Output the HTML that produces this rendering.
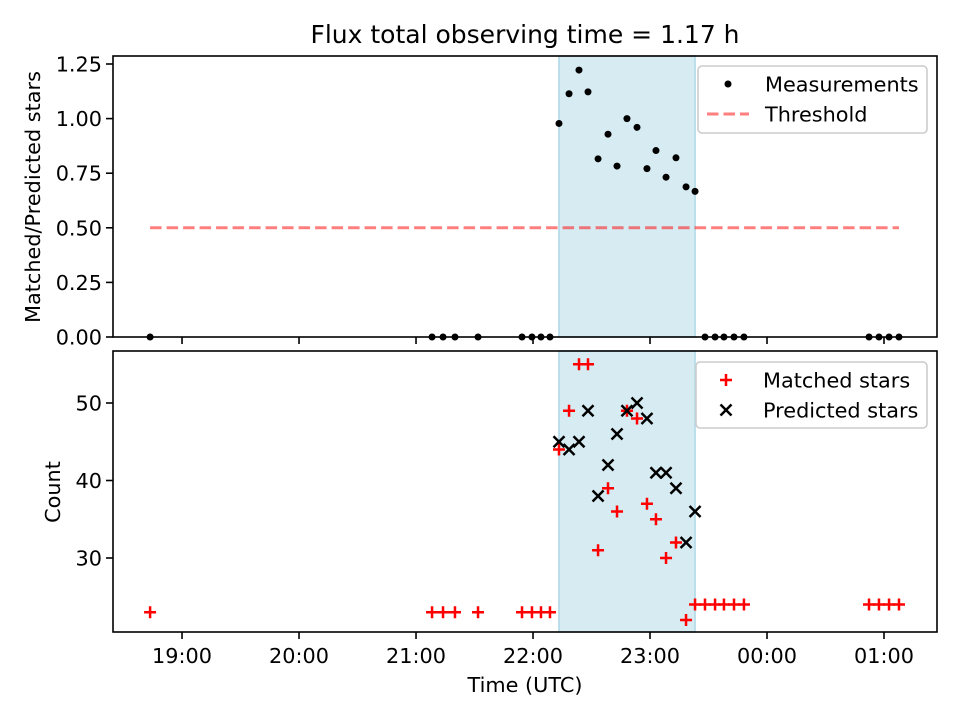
<!DOCTYPE html>
<html><head><meta charset="utf-8"><style>
body{margin:0;background:#fff}
svg{font-family:"DejaVu Sans","Liberation Sans",sans-serif}
</style></head><body>
<svg id="chart" width="960" height="720"></svg>
<script>
const times=[18.727,21.137,21.231,21.333,21.530,21.906,21.991,22.068,22.145,22.222,22.308,22.393,22.470,22.556,22.641,22.718,22.803,22.889,22.974,23.051,23.137,23.222,23.308,23.385,23.470,23.556,23.632,23.718,23.803,24.872,24.957,25.043,25.128];
const matched=[23,23,23,23,23,23,23,23,23,44,49,55,55,31,39,36,49,48,37,35,30,32,22,24,24,24,24,24,24,24,24,24,24];
const predicted=[null,null,null,null,null,null,null,null,null,45,44,45,49,38,42,46,49,50,48,41,41,39,32,36,null,null,null,null,null,null,null,null,null];
const xTicks=[19,20,21,22,23,24,25];
const xTickLabels=["19:00","20:00","21:00","22:00","23:00","00:00","01:00"];
const yTopTicks=[0,0.25,0.5,0.75,1.0,1.25];
const yBotTicks=[30,40,50];
const threshold=0.5;
const span=[22.222,23.385];
const NS="http://www.w3.org/2000/svg";
const svg=document.getElementById('chart');
function el(t,a,p){const e=document.createElementNS(NS,t);for(const k in a)e.setAttribute(k,a[k]);(p||svg).appendChild(e);return e;}
const FS=20.8;
const L=113,R=937;
const x=h=>L+(h-18.410)/(25.453-18.410)*(R-L);
const T0=56,T1=337,B0=351,B1=632;
const yT=v=>337-v*218.4;
const yB=v=>558-(v-30)*7.75;
const ratio=times.map((t,i)=>predicted[i]?matched[i]/predicted[i]:0);
const t=el('text',{x:525,y:43,'font-size':25,'text-anchor':'middle'});t.textContent="Flux total observing time = 1.17 h";

function plus(cx,cy,g){return el('path',{d:`M${cx-6},${cy}H${cx+6}M${cx},${cy-6}V${cy+6}`,stroke:'#f00','stroke-width':2.5},g);}
function cross(cx,cy,g){return el('path',{d:`M${cx-5.5},${cy-5.5}L${cx+5.5},${cy+5.5}M${cx-5.5},${cy+5.5}L${cx+5.5},${cy-5.5}`,stroke:'#000','stroke-width':2.5},g);}
function panel(top,bot,name){
  const g=el('g',{});
  const s=el('rect',{x:x(span[0]),y:top,width:x(span[1])-x(span[0]),height:bot-top,fill:'#add8e6','fill-opacity':0.5,stroke:'#add8e6','stroke-width':1.5},g);
  
  xTicks.forEach((h,i)=>{el('line',{x1:x(h),x2:x(h),y1:bot,y2:bot+7,stroke:'#000','stroke-width':1.6},g);});
  return g;
}
const gt=panel(T0,T1,'top-panel');
const th=el('line',{x1:x(18.727),x2:x(25.128),y1:yT(threshold),y2:yT(threshold),stroke:'#ff0000','stroke-opacity':0.5,'stroke-width':3,'stroke-dasharray':'11.5,5'},gt);

times.forEach((h,i)=>{const c=el('circle',{cx:x(h),cy:yT(ratio[i]),r:3.5,fill:'#000'},gt);});
yTopTicks.forEach(v=>{el('line',{x1:L-7,x2:L,y1:yT(v),y2:yT(v),stroke:'#000','stroke-width':1.6},gt);const tx=el('text',{x:L-11,y:yT(v)+7.5,'font-size':FS,'text-anchor':'end'},gt);tx.textContent=v.toFixed(2);});
el('rect',{x:L,y:T0,width:R-L,height:T1-T0,fill:'none',stroke:'#000','stroke-width':1.6},gt);
const yl=el('text',{transform:'translate(40,197) rotate(-90)','font-size':FS,'text-anchor':'middle'},gt);yl.textContent="Matched/Predicted stars";
const gb=panel(B0,B1,'bottom-panel');
times.forEach((h,i)=>{const p=plus(x(h),yB(matched[i]),gb);});
times.forEach((h,i)=>{if(predicted[i]==null)return;const p=cross(x(h),yB(predicted[i]),gb);});
yBotTicks.forEach(v=>{el('line',{x1:L-7,x2:L,y1:yB(v),y2:yB(v),stroke:'#000','stroke-width':1.6},gb);const tx=el('text',{x:L-11,y:yB(v)+7.5,'font-size':FS,'text-anchor':'end'},gb);tx.textContent=v;});
xTicks.forEach((h,i)=>{const tx=el('text',{x:x(h),y:B1+31,'font-size':FS,'text-anchor':'middle'},gb);tx.textContent=xTickLabels[i];});
el('rect',{x:L,y:B0,width:R-L,height:B1-B0,fill:'none',stroke:'#000','stroke-width':1.6},gb);
const yl2=el('text',{transform:'translate(60,492) rotate(-90)','font-size':FS,'text-anchor':'middle'},gb);yl2.textContent="Count";
const xl=el('text',{x:525,y:692,'font-size':FS,'text-anchor':'middle'},gb);xl.textContent="Time (UTC)";
function legend(x0,y0,w,h,items,name){const g=el('g',{});
 el('rect',{x:x0,y:y0,width:w,height:h,rx:4,fill:'#fff','fill-opacity':0.8,stroke:'#ccc','stroke-width':1.6},g);
 items.forEach((it,i)=>{const cy=y0+18+i*30;const cx=x0+30;
  if(it[0]=='dot')el('circle',{cx,cy,r:3.5,fill:'#000'},g);
  if(it[0]=='dash')el('line',{x1:cx-21,x2:cx+21,y1:cy,y2:cy,stroke:'#f00','stroke-opacity':0.5,'stroke-width':3,'stroke-dasharray':'11.5,5'},g);
  if(it[0]=='plus')plus(cx,cy,g);
  if(it[0]=='x')cross(cx,cy,g);
  const tx=el('text',{x:x0+67,y:cy+7.5,'font-size':FS},g);tx.textContent=it[1];});}
legend(698,66,229,67,[['dot','Measurements'],['dash','Threshold']],'legend-top');
legend(696,362,231,66,[['plus','Matched stars'],['x','Predicted stars']],'legend-bottom');
</script>
</body></html>
